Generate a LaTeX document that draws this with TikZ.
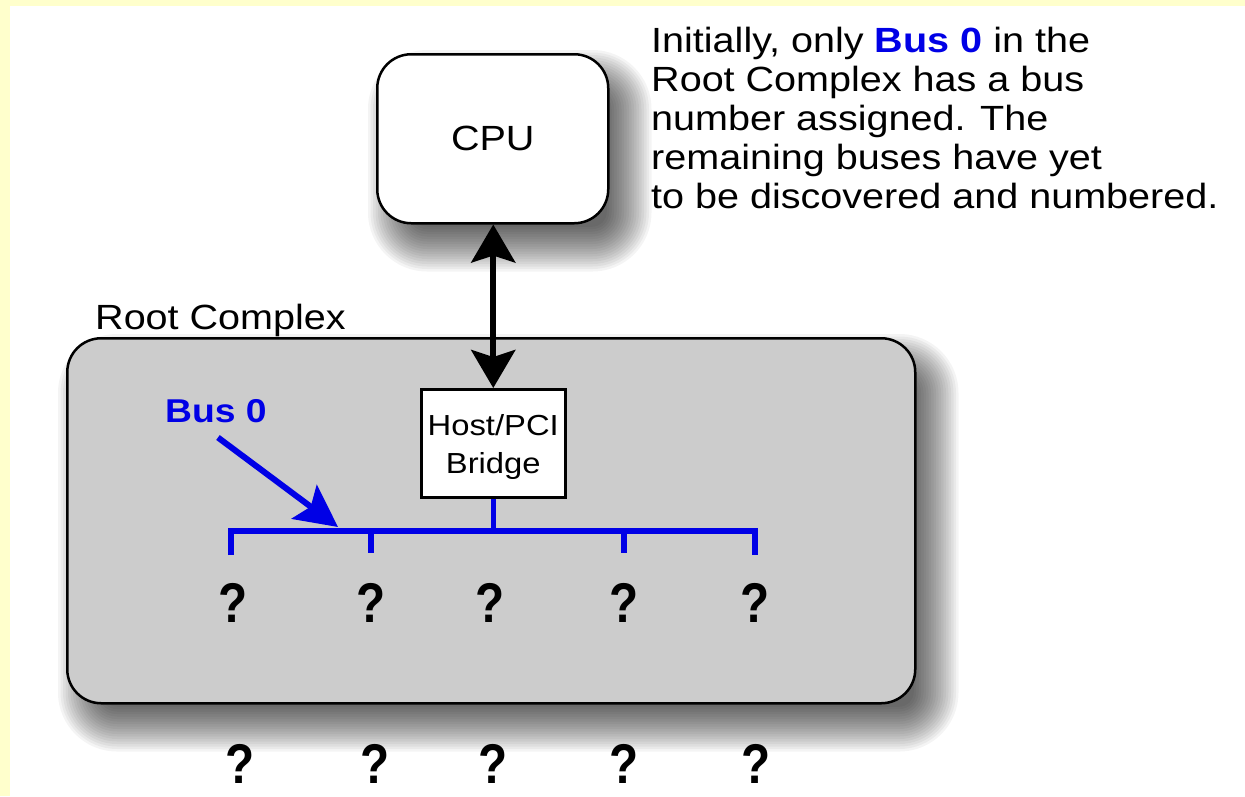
\documentclass[tikz,border=0pt]{standalone}
\usepackage{fontspec}
\setmainfont{Liberation Sans}[FakeStretch=1.13]
\newfontfamily\qfont{Liberation Sans}[FakeStretch=0.85]
\usetikzlibrary{arrows.meta,calc}
\definecolor{bgyellow}{RGB}{255,255,204}
\definecolor{busblue}{RGB}{0,0,230}
\definecolor{boxgray}{RGB}{204,204,204}
\tikzset{bigtip/.tip={Stealth[length=38pt, width=44pt, inset=7pt]}}
\pgfdeclarelayer{paper}
\pgfdeclarelayer{shade}
\pgfsetlayers{paper,shade,main}
\begin{document}
\begin{tikzpicture}[x=1pt,y=-1pt,
  rbox/.style={draw=black, line width=2.5pt, rounded corners=34pt, inner sep=0pt},
  txt/.style={font=\fontsize{35}{39}\selectfont, inner sep=0pt},
  qmark/.style={font=\qfont\bfseries\fontsize{56}{56}\selectfont, inner sep=0pt, anchor=base},
  bus/.style={draw=busblue, line width=5.5pt, line join=miter}]
\useasboundingbox (0,0) rectangle (1245,796);
\begin{pgfonlayer}{paper}
\fill[bgyellow] (0,0) rectangle (1245,796);
\fill[white] (10,6) rectangle (1245,796);
\end{pgfonlayer}

% Root complex
\node[rbox, fill=boxgray, minimum width=848pt, minimum height=365pt, anchor=north west] (rc) at (66,337) {};
\node[txt, anchor=base west] (rclab) at (95,329) {Root Complex};

% CPU
\node[rbox, fill=white, minimum width=231pt, minimum height=169pt, anchor=north west, txt] (cpu) at (376,53) {CPU};

% soft shadows
\begin{pgfonlayer}{shade}
\foreach \d in {-20,-17.5,...,26}{
  \pgfmathsetmacro{\rr}{max(34+\d,4)}
  \fill[black, opacity=0.042, rounded corners=\rr pt]
    ($(rc.north west)+(17-\d,22-\d)$) rectangle ($(rc.south east)+(17+\d,22+\d)$);
  \fill[black, opacity=0.042, rounded corners=\rr pt]
    ($(cpu.north west)+(17-\d,22-\d)$) rectangle ($(cpu.south east)+(17+\d,22+\d)$);
}
\end{pgfonlayer}

% Host/PCI bridge
\node[draw=black, fill=white, line width=2.5pt, minimum width=144pt, minimum height=108pt, anchor=north west,
  inner sep=0pt] (bridge) at (420,388) {};
\node[align=center, inner sep=0pt, font=\fontsize{29}{38}\selectfont] (brtext) at ([yshift=-4pt]bridge.center) {Host/PCI\\Bridge};

% CPU <-> bridge
\draw[line width=6pt, bigtip-bigtip] (cpu.south -| bridge.north) -- (bridge.north);

% description
\node[txt, align=left, anchor=north west] (desc) at (651,27)
  {Initially, only \textcolor{busblue}{\textbf{Bus 0}} in the\\
   Root Complex has a bus\\
   number assigned. The\\
   remaining buses have yet\\
   to be discovered and numbered.};

% bus 0
\coordinate (bl) at (231,531);
\coordinate (br) at (755,531);
\coordinate (t2) at (371,531);
\coordinate (t4) at (624,531);
\draw[bus] ([yshift=-24pt]bl) -- (bl) -- (br) -- ([yshift=-24pt]br);
\draw[bus] (t2) -- ([yshift=-22pt]t2);
\draw[bus] (t4) -- ([yshift=-22pt]t4);
\draw[bus] (bridge.south) -- (bridge.south |- bl);

\node[txt, font=\bfseries\fontsize{33}{39}\selectfont, text=busblue, anchor=base west] (buslab) at (165,422) {Bus 0};
\coordinate (arrtip) at (338,527);
\draw[busblue, line width=6pt, -{Stealth[length=42pt, width=42pt, inset=8pt]}]
  ([xshift=2pt, yshift=-15pt]buslab.south) -- (arrtip);

% question marks inside
\node[qmark] (q1) at (233,622) {?};
\node[qmark] (q2) at (371,622) {?};
\node[qmark] (q3) at (490,622) {?};
\node[qmark] (q4) at (624,622) {?};
\node[qmark] (q5) at (755,622) {?};
% question marks below
\node[qmark] (r1) at (240,783) {?};
\node[qmark] (r2) at (375,783) {?};
\node[qmark] (r3) at (493,783) {?};
\node[qmark] (r4) at (624,783) {?};
\node[qmark] (r5) at (756,783) {?};
\end{tikzpicture}
\end{document}
